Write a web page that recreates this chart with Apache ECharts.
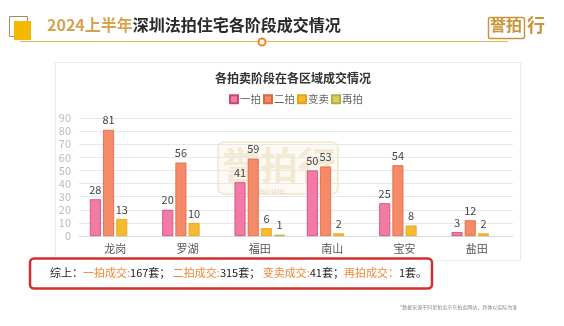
<!DOCTYPE html>
<html><head><meta charset="utf-8">
<script src="https://cdn.jsdelivr.net/npm/echarts@6/dist/echarts.min.js"></script>
<style>html,body{margin:0;padding:0;background:#fff}#c{width:564px;height:326px}</style>
</head><body><div id="c"></div>
<script>
const categories = ['龙岗','罗湖','福田','南山','宝安','盐田'];
const seriesNames = ['一拍','二拍','变卖','再拍'];
const firstAuction = [28,20,41,50,25,3];
const secondAuction = [81,56,59,53,54,12];
const saleOff = [13,10,6,2,8,2];
const reAuction = [0,0,1,0,0,0];
const yTicks = [0,10,20,30,40,50,60,70,80,90];
const totals = {first:167, second:315, sale:41, re:1};

const FONT = '"Noto Sans CJK SC","Noto Sans",sans-serif';
const colors = ['#f27aa6','#f58a68','#f6bb2e','#d8cf62'];
const borders = ['#cf4478','#dd6540','#e3a218','#b8ae3c'];
const values = [firstAuction, secondAuction, saleOff, reAuction];

const chart = echarts.init(document.getElementById('c'));
const series = seriesNames.map((n,i)=>({
  name:n, type:'bar',
  data:values[i].map(v=>v===0?{value:v,itemStyle:{borderWidth:0,opacity:0}}:v),
  barWidth:11, barGap:'20%',
  itemStyle:{color:colors[i], borderColor:borders[i], borderWidth:0.8},
  label:{show:true, position:'top', distance:4, color:'#444', fontSize:11, fontFamily:FONT,
    formatter:p=>p.value===0?'':String(p.value)}
}));

chart.setOption({
  animation:false,
  textStyle:{fontFamily:FONT},
  title:{text:'各拍卖阶段在各区域成交情况', left:288, top:67, textAlign:'center',
    textStyle:{fontSize:12, fontWeight:'bold', color:'#333', fontFamily:FONT}},
  legend:{data:seriesNames, left:224, top:89, itemWidth:8, itemHeight:8, itemGap:2,
    icon:'rect', textStyle:{fontSize:10.5, color:'#666', fontFamily:FONT, padding:[0,0,0,-3]}},
  grid:{left:79, right:51, top:118, bottom:90, containLabel:false},
  xAxis:{type:'category', data:categories,
    axisLine:{lineStyle:{color:'#d9d9d9'}}, axisTick:{show:false},
    axisLabel:{color:'#555', fontSize:11, margin:7, fontFamily:FONT}},
  yAxis:{type:'value', min:yTicks[0], max:yTicks[yTicks.length-1], interval:10,
    axisLine:{show:false}, axisTick:{show:false},
    axisLabel:{color:'#bbb', fontSize:11, margin:8, fontFamily:FONT},
    splitLine:{lineStyle:{color:'#e8e8e8'}}},
  series:series,
  graphic:[
    {type:'rect', shape:{x:9.5,y:16.5,width:18,height:20}, style:{fill:'none', stroke:'#a08868', lineWidth:1}, z:10},
    {type:'rect', shape:{x:14,y:21,width:17,height:19}, style:{fill:'#f5b800'}, z:11},
    {type:'line', shape:{x1:20,y1:41.5,x2:508,y2:41.5}, style:{stroke:'#e9b44c', lineWidth:1}, z:10},
    {type:'circle', shape:{cx:262,cy:42,r:3.5}, style:{fill:'#fff', stroke:'#f08a1c', lineWidth:2}, z:12},
    {type:'text', left:47, top:17, style:{text:'{a|2024上半年}{b|深圳法拍住宅各阶段成交情况}',
      rich:{a:{fontSize:16,fontWeight:'bold',fill:'#d6a34c',fontFamily:FONT},
            b:{fontSize:16,fontWeight:'bold',fill:'#2a2a2a',fontFamily:FONT}}}, z:10},
    {type:'rect', shape:{x:488.5,y:17.5,width:36,height:21,r:2}, style:{fill:'none', stroke:'#c9953c', lineWidth:1.5}, z:10},
    {type:'text', left:490, top:17, style:{text:'誉拍', fontSize:16, fontWeight:'bold', fill:'#c9953c', fontFamily:FONT}, z:11},
    {type:'text', left:527, top:16, style:{text:'行', fontSize:18, fontWeight:'bold', fill:'#c9953c', fontFamily:FONT}, z:11},
    {type:'rect', shape:{x:55.5,y:62.5,width:465,height:198}, style:{fill:'none', stroke:'#ebebeb', lineWidth:1}, z:-1},
    {type:'rect', shape:{x:218,y:142,width:120,height:52,r:6}, style:{fill:'rgba(240,225,190,0.18)', stroke:'rgba(215,185,120,0.25)', lineWidth:2}, z:0},
    {type:'text', left:222, top:146, style:{text:'誉拍行', fontSize:38, fontWeight:'bold', fill:'rgba(215,175,100,0.22)', fontFamily:FONT}, z:0},
    {type:'text', left:250, top:189, style:{text:'YU PAI HANG', fontSize:6, fill:'rgba(180,150,100,0.35)', fontFamily:FONT}, z:0},
    {type:'rect', shape:{x:30,y:258.5,width:402,height:30,r:4}, style:{fill:'#fff', stroke:'#d2302c', lineWidth:2.5}, z:10},
    {type:'text', left:50, top:267, style:{
      text:'{k|综上：}{o|一拍成交:}{k|'+totals.first+'套； }{o|二拍成交:}{k|'+totals.second+'套； }{o|变卖成交:}{k|'+totals.sale+'套；}{o|再拍成交：}{k|'+totals.re+'套。}',
      rich:{k:{fontSize:11,fill:'#222',fontFamily:FONT}, o:{fontSize:11,fill:'#ec8a3a',fontFamily:FONT}}}, z:11},
    {type:'text', left:400, top:305, style:{text:'*数据来源于阿里拍卖京东拍卖网站，具体以实际为准', fontSize:5, fill:'#888', fontFamily:FONT}, z:10}
  ]
});
</script></body></html>
